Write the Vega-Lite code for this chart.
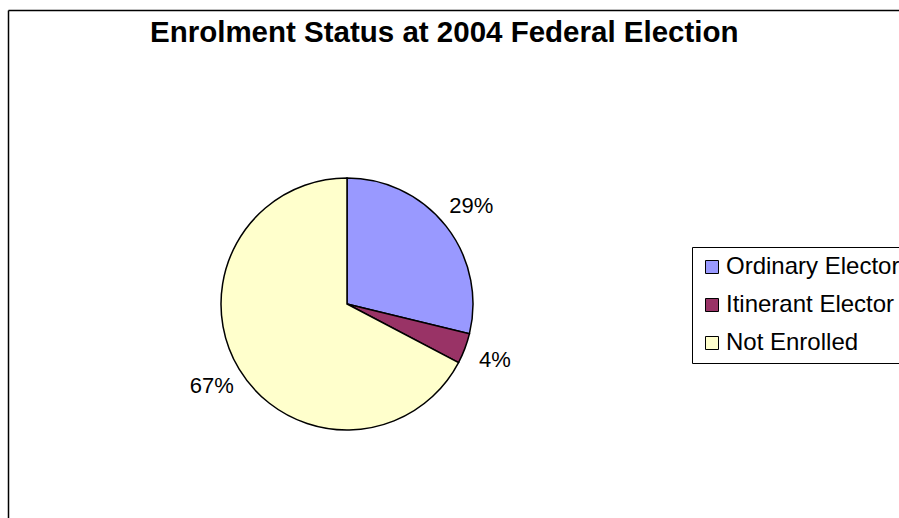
{
  "$schema": "https://vega.github.io/schema/vega-lite/v6.json",
  "autosize": "none",
  "width": 891,
  "height": 508,
  "padding": {"left": 8, "top": 10, "right": 0, "bottom": 0},
  "background": "white",
  "config": {
    "view": {"stroke": null},
    "font": "Liberation Sans"
  },
  "title": {
    "text": "Enrolment Status at 2004 Federal Election",
    "font": "Liberation Sans",
    "fontSize": 29.5,
    "fontWeight": "bold",
    "color": "black",
    "anchor": "start",
    "frame": "group",
    "baseline": "alphabetic",
    "offset": -35,
    "dy": 26,
    "dx": 142
  },
  "data": {
    "values": [
      {"status": "Ordinary Elector", "value": 28.8, "label": "29%", "order": 1},
      {"status": "Itinerant Elector", "value": 3.9, "label": "4%", "order": 2},
      {"status": "Not Enrolled", "value": 67.3, "label": "67%", "order": 3}
    ]
  },
  "layer": [
    {
      "mark": {"type": "point", "opacity": 0},
      "encoding": {
        "x": {"datum": 0, "type": "quantitative", "scale": {"domain": [0, 1]},
              "axis": {"orient": "top", "domain": true, "domainColor": "black", "domainWidth": 1.5, "ticks": false, "labels": false, "grid": false, "title": null}},
        "y": {"datum": 0, "type": "quantitative", "scale": {"domain": [0, 1]},
              "axis": {"orient": "left", "domain": true, "domainColor": "black", "domainWidth": 1.5, "ticks": false, "labels": false, "grid": false, "title": null}}
      }
    },
    {
      "mark": {"type": "arc", "outerRadius": 126, "x": 339, "y": 294, "stroke": "black", "strokeWidth": 1.5},
      "encoding": {
        "theta": {"field": "value", "type": "quantitative", "stack": true},
        "order": {"field": "order", "type": "quantitative"},
        "color": {
          "field": "status",
          "type": "nominal",
          "scale": {
            "domain": ["Ordinary Elector", "Itinerant Elector", "Not Enrolled"],
            "range": ["#9999FF", "#993366", "#FFFFCC"]
          },
          "legend": {
            "title": null,
            "orient": "none",
            "legendX": 684,
            "legendY": 237,
            "padding": 8,
            "strokeColor": "black",
            "fillColor": "white",
            "symbolType": "square",
            "symbolSize": 169,
            "symbolStrokeColor": "black",
            "symbolStrokeWidth": 1,
            "labelFont": "Liberation Sans",
            "labelFontSize": 24,
            "labelColor": "black",
            "labelOffset": 2,
            "rowPadding": 14,
            "labelLimit": 400
          }
        }
      }
    },
    {
      "mark": {"type": "text", "radius": 158, "x": 339, "y": 294, "font": "Liberation Sans", "fontSize": 22, "color": "black", "align": "center", "baseline": "middle"},
      "encoding": {
        "theta": {"field": "value", "type": "quantitative", "stack": true},
        "order": {"field": "order", "type": "quantitative"},
        "text": {"field": "label", "type": "nominal"}
      }
    }
  ]
}
